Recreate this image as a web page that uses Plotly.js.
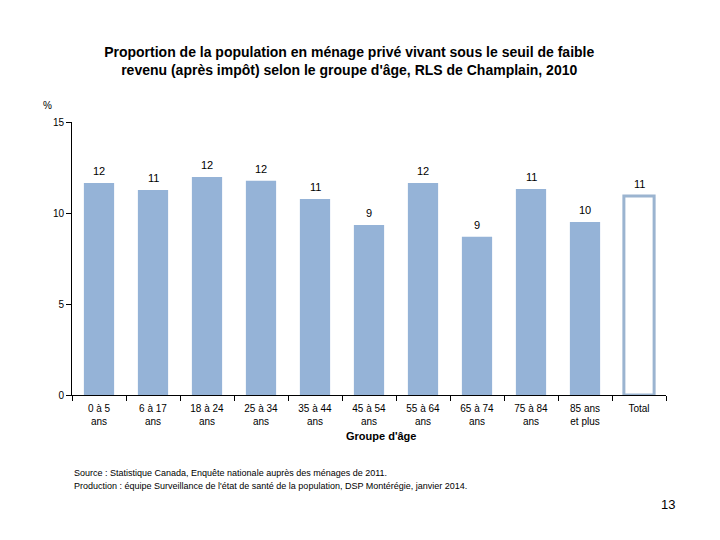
<!DOCTYPE html>
<html>
<head>
<meta charset="utf-8">
<script src="https://cdn.plot.ly/plotly-3.0.1.min.js"></script>
<style>html,body{margin:0;padding:0;background:#fff;}#chart{width:720px;height:540px;}</style>
</head>
<body>
<div id="chart"></div>
<script>
const categories = ["0 à 5<br>ans", "6 à 17<br>ans", "18 à 24<br>ans", "25 à 34<br>ans", "35 à 44<br>ans", "45 à 54<br>ans", "55 à 64<br>ans", "65 à 74<br>ans", "75 à 84<br>ans", "85 ans<br>et plus", "Total"];
const values = [11.65, 11.26, 11.98, 11.77, 10.77, 9.34, 11.65, 8.70, 11.32, 9.5, 10.93];
const labels = ["12", "11", "12", "12", "11", "9", "12", "9", "11", "10", "11"];
const yTicks = [0, 5, 10, 15];

const font = "Liberation Sans, Arial, sans-serif";
const barColor = "#95b3d7";
const fills = categories.map((c, i) => i === categories.length - 1 ? "#ffffff" : barColor);
const lineW = categories.map((c, i) => i === categories.length - 1 ? 3 : 0);

const trace = {
  type: "bar",
  x: categories,
  y: values,
  marker: { color: fills, line: { color: "#9bb4d0", width: lineW } },
  hoverinfo: "skip"
};

const annotations = categories.map((c, i) => ({
  x: c, y: values[i], xref: "x", yref: "y",
  text: labels[i], showarrow: false, yanchor: "bottom", yshift: 4,
  font: { family: font, size: 11, color: "#000" }
}));

annotations.push(
  { xref: "paper", yref: "paper", x: -0.042, y: 1.06, text: "%", showarrow: false, xanchor: "center", yanchor: "middle", font: { family: font, size: 10, color: "#000" } },
  { xref: "paper", yref: "paper", x: 0.52, y: -0.152, text: "<b>Groupe d'âge</b>", showarrow: false, xanchor: "center", yanchor: "middle", font: { family: font, size: 11, color: "#000" } },
  { xref: "paper", yref: "paper", x: 0.0, y: -0.285, text: "Source : Statistique Canada, Enquête nationale auprès des ménages de 2011.", showarrow: false, xanchor: "left", yanchor: "middle", font: { family: font, size: 9, color: "#000" } },
  { xref: "paper", yref: "paper", x: 0.0, y: -0.335, text: "Production : équipe Surveillance de l'état de santé de la population, DSP Montérégie, janvier 2014.", showarrow: false, xanchor: "left", yanchor: "middle", font: { family: font, size: 9, color: "#000" } },
  { xref: "paper", yref: "paper", x: 1.003, y: -0.4, text: "13", showarrow: false, xanchor: "center", yanchor: "middle", font: { family: font, size: 13, color: "#000" } }
);

const layout = {
  width: 720, height: 540,
  margin: { l: 72, r: 54, t: 122, b: 145 },
  paper_bgcolor: "#fff", plot_bgcolor: "#fff",
  showlegend: false,
  bargap: 0.44,
  title: {
    text: "<b>Proportion de la population en ménage privé vivant sous le seuil de faible<br>revenu (après impôt) selon le groupe d'âge, RLS de Champlain, 2010</b>",
    x: 0.485, xanchor: "center", y: 0.894, yanchor: "middle",
    font: { family: font, size: 14, color: "#000" }
  },
  xaxis: {
    type: "category", range: [-0.5, 10.5], showline: true, linecolor: "#000", linewidth: 1,
    ticks: "outside", tickson: "boundaries", ticklen: 5, tickcolor: "#000", ticklabelstandoff: 4,
    tickfont: { family: font, size: 10, color: "#000" }, showgrid: false, zeroline: false, fixedrange: true
  },
  yaxis: {
    range: [0, 15], tickvals: yTicks, ticktext: yTicks.map(String), showline: true, linecolor: "#000", linewidth: 1,
    ticks: "outside", ticklen: 5, tickcolor: "#000", showgrid: false, zeroline: false,
    tickfont: { family: font, size: 10, color: "#000" }, fixedrange: true
  },
  annotations: annotations
};

Plotly.newPlot("chart", [trace], layout, { displayModeBar: false, staticPlot: true });
</script>
</body>
</html>
